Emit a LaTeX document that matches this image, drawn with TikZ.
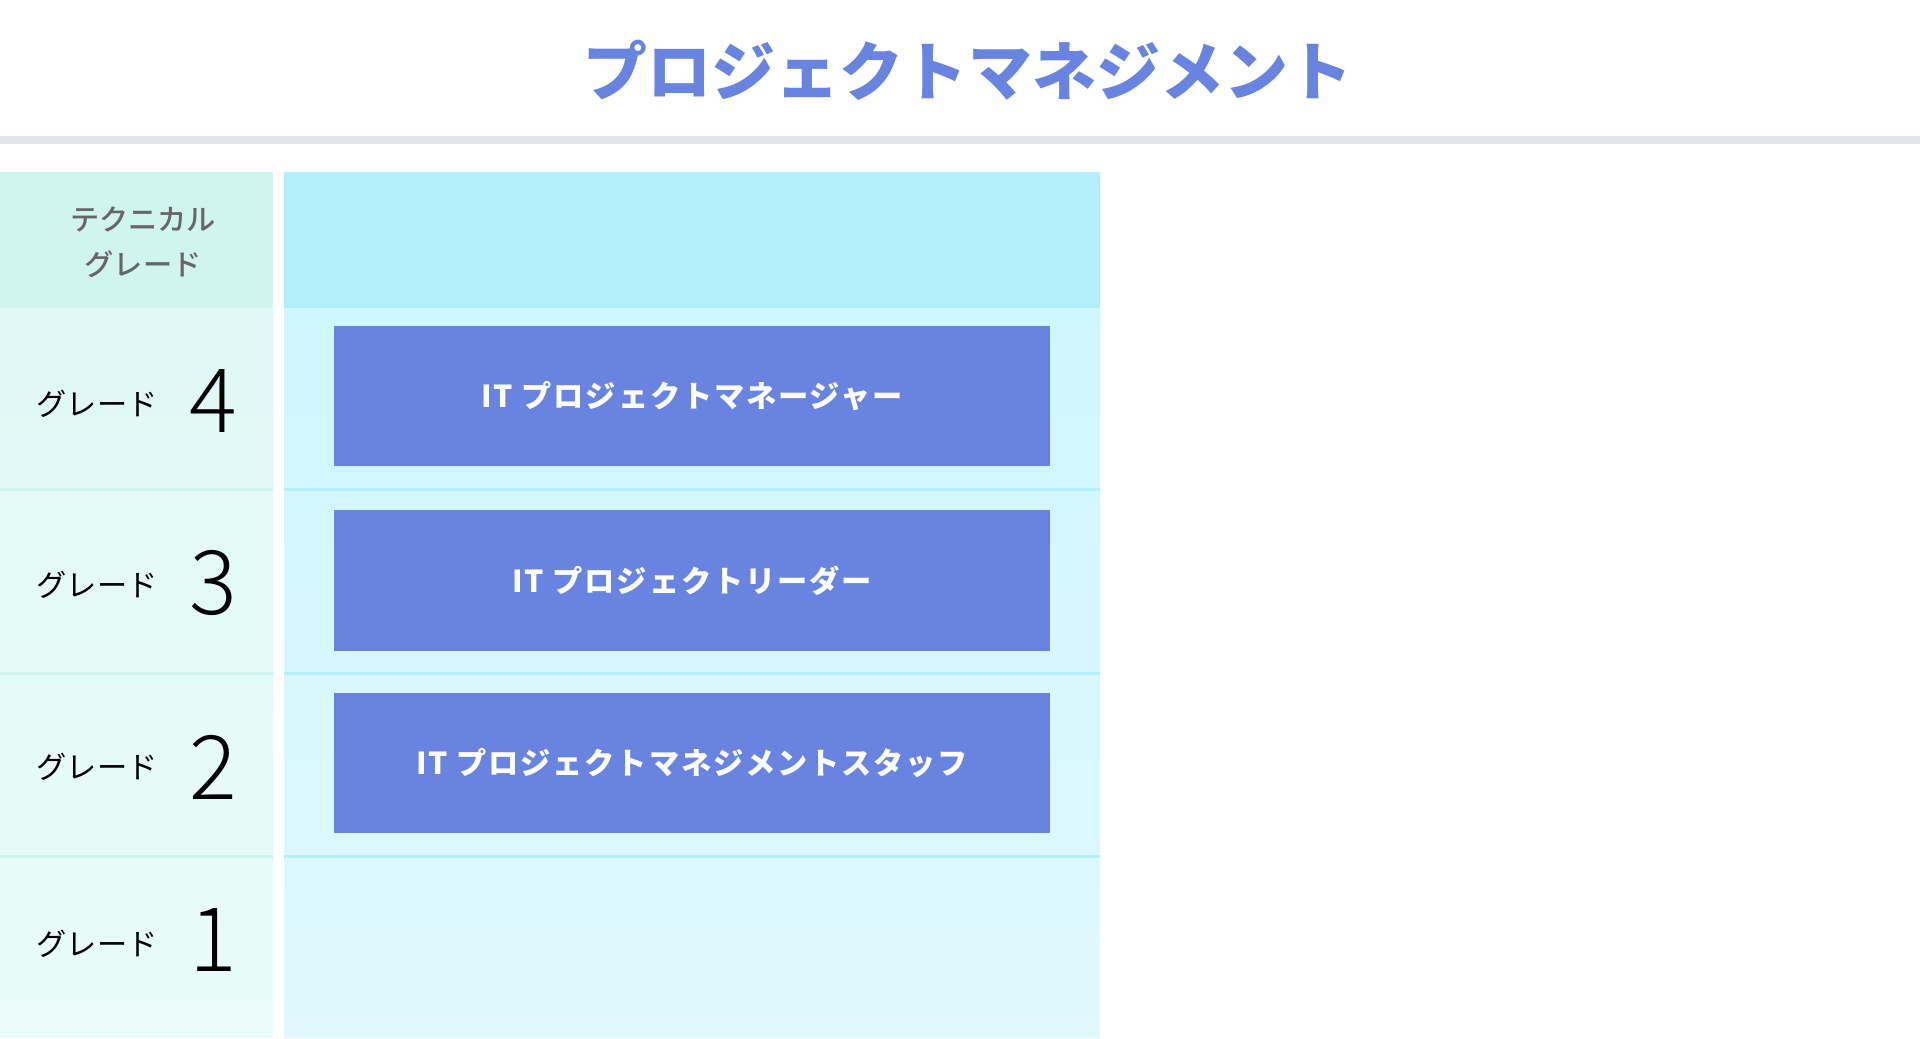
\documentclass[tikz,border=0pt]{standalone}
\usepackage{fontspec}
\setmainfont{Noto Sans CJK JP}
\newfontfamily\digitfont{Noto Sans CJK JP Light}
\newfontfamily\medfont{Noto Sans CJK JP Medium}
\newfontfamily\rolefont{Noto Sans CJK JP}[LetterSpace=6]
\usepackage{tikz}
\usetikzlibrary{positioning}
\definecolor{roleblue}{HTML}{6884E0}
\definecolor{bargray}{HTML}{E4E5EA}
\definecolor{lhead}{HTML}{D0F4EE}
\definecolor{ltop}{HTML}{E0F9F6}
\definecolor{lbot}{HTML}{EAFBF9}
\definecolor{lsepc}{HTML}{D0F3EC}
\definecolor{rhead}{HTML}{B3EEFC}
\definecolor{rtop}{HTML}{CFF7FE}
\definecolor{rbot}{HTML}{E0F8FE}
\definecolor{rsepc}{HTML}{B3EFFC}
\definecolor{headtext}{HTML}{666666}

\begin{document}
\begin{tikzpicture}[
    x=0.01cm, y=-0.01cm,
    ttl/.style={font=\bfseries\fontsize{18.2}{22}\selectfont, text=roleblue, inner sep=0pt},
    hdr/.style={font=\medfont\fontsize{8.3}{12.8}\selectfont, text=headtext, align=center, inner sep=0pt},
    grade/.style={font=\fontsize{8.6}{10}\selectfont, text=black, inner sep=0pt},
    gnum/.style={font=\digitfont\fontsize{25.3}{28}\selectfont, text=black, inner sep=0pt},
    role/.style={rectangle, fill=roleblue, text=white, font=\rolefont\bfseries\fontsize{8.6}{10}\selectfont,
                 minimum width=7.16cm, minimum height=1.4cm, inner sep=0pt},
    lsep/.style={draw=lsepc, line width=0.85pt},
    rsep/.style={draw=rsepc, line width=0.85pt}
]
\useasboundingbox (0,0) rectangle (1920,1039);
\fill[white] (0,0) rectangle (1920,1039);

% title and rule
\node[ttl] (title) at (968,70) {プロジェクトマネジメント};
\fill[bargray] (0,136) rectangle (1920,144);

% columns
\fill[lhead] (0,172) rectangle (273,308);
\shade[top color=ltop, bottom color=lbot] (0,308) rectangle (273,1037);
\fill[rhead] (284,172) rectangle (1100,308);
\shade[top color=rtop, bottom color=rbot] (284,308) rectangle (1100,1037);
\foreach \y in {489,673,856} {
    \draw[lsep] (0,\y) -- (273,\y);
    \draw[rsep] (284,\y) -- (1100,\y);
}

\node[hdr] (techhead) at (143,242) {テクニカル\\グレード};

% grade rows
\foreach \g/\ly/\dy in {4/404/401, 3/585/583, 2/767/767, 1/944/940} {
    \node[grade] (lab\g) at (97,\ly) {グレード};
    \node[gnum] (num\g) at (213,\dy) {\g};
}

% roles
\node[role] (pm) at (692,396) {IT プロジェクトマネージャー};
\node[role, below=0.43cm of pm] (pl) {IT プロジェクトリーダー};
\node[role, below=0.41cm of pl] (pms) {IT プロジェクトマネジメントスタッフ};
\end{tikzpicture}
\end{document}
